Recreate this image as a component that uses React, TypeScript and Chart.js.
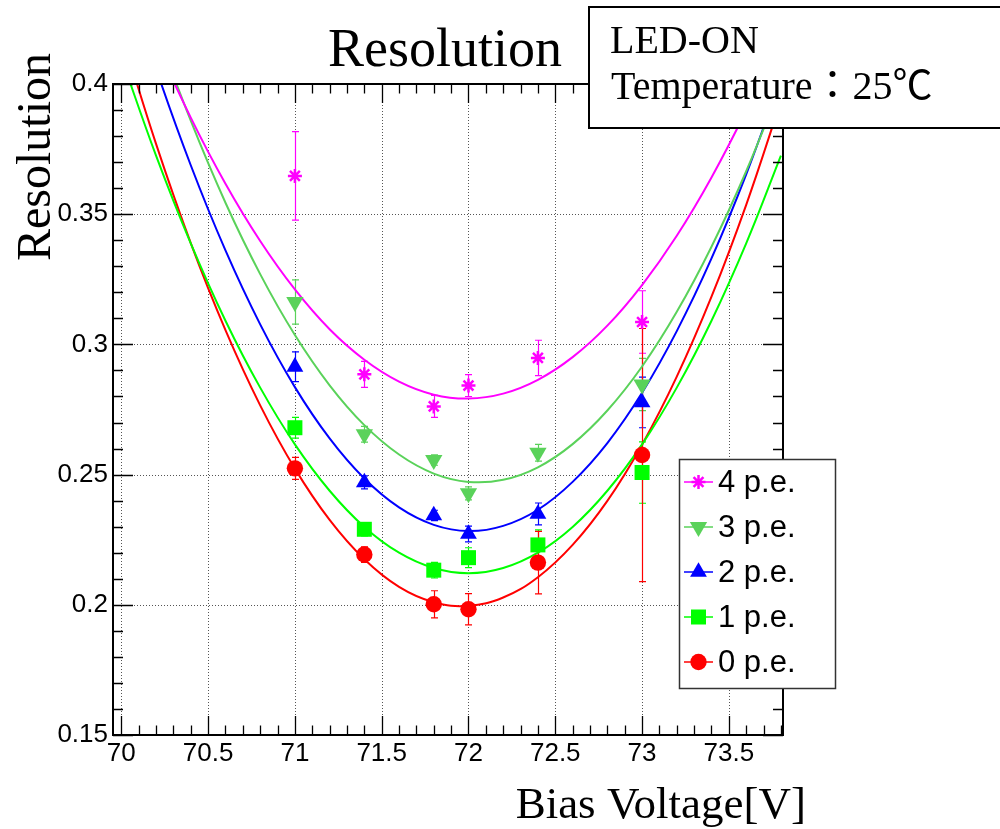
import React, { useEffect, useRef } from "react";
import { Chart, registerables } from "chart.js";

Chart.register(...registerables);

// ---------------- data ----------------
const biasVoltage = [71.0, 71.4, 71.8, 72.0, 72.4, 73.0];

const res4pe = [0.3647, 0.2885, 0.2762, 0.2842, 0.2948, 0.3086];
const err4pe = [0.017, 0.005, 0.0042, 0.0042, 0.0068, 0.012];

const res3pe = [0.3163, 0.2655, 0.2556, 0.2428, 0.2584, 0.2846];
const err3pe = [0.0085, 0.003, 0.002, 0.0025, 0.0032, 0.01];

const res2pe = [0.2914, 0.247, 0.2343, 0.2272, 0.2349, 0.2777];
const err2pe = [0.0057, 0.0025, 0.002, 0.003, 0.0042, 0.0097];

const res1pe = [0.268, 0.229, 0.2133, 0.2181, 0.223, 0.2508];
const err1pe = [0.004, 0.0025, 0.003, 0.0038, 0.0058, 0.0118];

const res0pe = [0.2524, 0.2193, 0.2002, 0.1983, 0.2162, 0.2575];
const err0pe = [0.0042, 0.003, 0.0052, 0.006, 0.012, 0.0486];

// fitted curves
const fitVoltage = [70.0, 70.2, 70.4, 70.6, 70.8, 71.0, 71.2, 71.4, 71.6, 71.8, 72.0, 72.2, 72.4, 72.6, 72.8, 73.0, 73.2, 73.4, 73.6, 73.8];
const fit4pe = [0.4483, 0.416, 0.3871, 0.3617, 0.3397, 0.3211, 0.3058, 0.2941, 0.2857, 0.2807, 0.2792, 0.2811, 0.2864, 0.2951, 0.3072, 0.3228, 0.3417, 0.3641, 0.3899, 0.4191];
const fit3pe = [0.4609, 0.4214, 0.3859, 0.3544, 0.327, 0.3036, 0.2843, 0.269, 0.2577, 0.2504, 0.2472, 0.248, 0.2528, 0.2617, 0.2746, 0.2915, 0.3125, 0.3375, 0.3665, 0.3996];
const fit2pe = [0.4473, 0.4059, 0.3688, 0.3361, 0.3077, 0.2836, 0.2639, 0.2485, 0.2374, 0.2307, 0.2283, 0.2303, 0.2365, 0.2472, 0.2621, 0.2814, 0.3051, 0.333, 0.3653, 0.402];
const fit1pe = [0.4101, 0.3725, 0.3388, 0.3091, 0.2834, 0.2616, 0.2438, 0.2299, 0.22, 0.2141, 0.2121, 0.2141, 0.22, 0.2299, 0.2438, 0.2616, 0.2834, 0.3091, 0.3388, 0.3725];
const fit0pe = [0.4196, 0.377, 0.3389, 0.3055, 0.2766, 0.2523, 0.2326, 0.2175, 0.2069, 0.201, 0.1996, 0.2028, 0.2106, 0.223, 0.2399, 0.2615, 0.2876, 0.3183, 0.3536, 0.3935];

const xTickValues = [70, 70.5, 71, 71.5, 72, 72.5, 73, 73.5];
const xTickLabels = ["70", "70.5", "71", "71.5", "72", "72.5", "73", "73.5"];
const yTickValues = [0.15, 0.2, 0.25, 0.3, 0.35, 0.4];
const yTickLabels = ["0.15", "0.2", "0.25", "0.3", "0.35", "0.4"];

const legendLabels = ["4 p.e.", "3 p.e.", "2 p.e.", "1 p.e.", "0 p.e."];
const chartTitle = "Resolution";
const xTitle = "Bias Voltage[V]";
const yTitle = "Resolution";
const infoLines = ["LED-ON", "Temperature\uFF1A25\u2103"];

const X_MIN = 69.952;
const X_MAX = 73.812;
const Y_MIN = 0.15;
const Y_MAX = 0.4;

// ---------------- styles ----------------
const SANS = '"Liberation Sans", Arial, Helvetica, sans-serif';
const SERIF = '"Liberation Serif", "Times New Roman", "Noto Sans CJK JP", serif';

type Marker = "star" | "triDown" | "triUp" | "square" | "circle";
const series = [
  { label: legendLabels[0], values: res4pe, errors: err4pe, fit: fit4pe, color: "#ff00ff", marker: "star" as Marker },
  { label: legendLabels[1], values: res3pe, errors: err3pe, fit: fit3pe, color: "#5ad25a", marker: "triDown" as Marker },
  { label: legendLabels[2], values: res2pe, errors: err2pe, fit: fit2pe, color: "#0000ff", marker: "triUp" as Marker },
  { label: legendLabels[3], values: res1pe, errors: err1pe, fit: fit1pe, color: "#00ff00", marker: "square" as Marker },
  { label: legendLabels[4], values: res0pe, errors: err0pe, fit: fit0pe, color: "#ff0000", marker: "circle" as Marker },
];

function markerDataset(s: (typeof series)[number]) {
  const base: any = {
    type: "scatter",
    label: s.label,
    data: biasVoltage.map((x, i) => ({ x, y: s.values[i] })),
    backgroundColor: s.color,
    borderColor: s.color,
    showLine: false,
    order: 0,
  };
  if (s.marker === "star") Object.assign(base, { pointStyle: "star", pointRadius: 7, borderWidth: 2.5 });
  if (s.marker === "triDown") Object.assign(base, { pointStyle: "triangle", rotation: 180, pointRadius: 10, borderWidth: 0 });
  if (s.marker === "triUp") Object.assign(base, { pointStyle: "triangle", pointRadius: 9.7, borderWidth: 0 });
  if (s.marker === "square") Object.assign(base, { pointStyle: "rect", pointRadius: 10.6, borderWidth: 0 });
  if (s.marker === "circle") Object.assign(base, { pointStyle: "circle", pointRadius: 8.2, borderWidth: 0 });
  return base;
}

function fitDataset(s: (typeof series)[number]) {
  return {
    type: "scatter",
    label: s.label + " fit",
    data: fitVoltage.map((x, i) => ({ x, y: s.fit[i] })),
    borderColor: s.color,
    backgroundColor: s.color,
    showLine: true,
    pointRadius: 0,
    borderWidth: 2,
    tension: 0.4,
    order: 1,
  } as any;
}

function drawMarker(ctx: CanvasRenderingContext2D, m: Marker, x: number, y: number, color: string) {
  ctx.save();
  ctx.fillStyle = color;
  ctx.strokeStyle = color;
  ctx.beginPath();
  if (m === "circle") {
    ctx.arc(x, y, 8.2, 0, Math.PI * 2);
    ctx.fill();
  } else if (m === "square") {
    ctx.fillRect(x - 7.5, y - 7.5, 15, 15);
  } else if (m === "triUp" || m === "triDown") {
    const r = m === "triUp" ? 9.7 : 10;
    const sgn = m === "triUp" ? 1 : -1;
    for (let k = 0; k < 3; k++) {
      const a = (k * 2 * Math.PI) / 3;
      const px = x + Math.sin(a) * r;
      const py = y - sgn * Math.cos(a) * r;
      if (k === 0) ctx.moveTo(px, py);
      else ctx.lineTo(px, py);
    }
    ctx.closePath();
    ctx.fill();
  } else {
    ctx.lineWidth = 2.5;
    const r = 7;
    for (let k = 0; k < 4; k++) {
      const a = (k * Math.PI) / 4;
      ctx.moveTo(x - Math.cos(a) * r, y - Math.sin(a) * r);
      ctx.lineTo(x + Math.cos(a) * r, y + Math.sin(a) * r);
    }
    ctx.stroke();
  }
  ctx.restore();
}

const rootPlugin = {
  id: "rootStyle",
  beforeDatasetsDraw(chart: any) {
    const { ctx, chartArea: ca } = chart;
    const xs = chart.scales.x;
    const ys = chart.scales.y;
    ctx.save();
    // dotted grid
    ctx.strokeStyle = "#555";
    ctx.lineWidth = 1;
    ctx.setLineDash([1, 2]);
    ctx.beginPath();
    for (const v of xTickValues) {
      const px = Math.round(xs.getPixelForValue(v)) + 0.5;
      if (px <= ca.left + 2 || px >= ca.right - 2) continue;
      ctx.moveTo(px, ca.top);
      ctx.lineTo(px, ca.bottom);
    }
    for (const v of yTickValues) {
      const py = Math.round(ys.getPixelForValue(v)) + 0.5;
      if (py <= ca.top + 2 || py >= ca.bottom - 2) continue;
      ctx.moveTo(ca.left, py);
      ctx.lineTo(ca.right, py);
    }
    ctx.stroke();
    ctx.setLineDash([]);
    // error bars
    ctx.beginPath();
    ctx.rect(ca.left, ca.top, ca.right - ca.left, ca.bottom - ca.top);
    ctx.clip();
    for (const s of series) {
      ctx.strokeStyle = s.color;
      ctx.lineWidth = 1.2;
      ctx.beginPath();
      s.values.forEach((v, i) => {
        const px = Math.round(xs.getPixelForValue(biasVoltage[i])) + 0.5;
        const top = ys.getPixelForValue(v + s.errors[i]);
        const bot = ys.getPixelForValue(v - s.errors[i]);
        ctx.moveTo(px, top);
        ctx.lineTo(px, bot);
        ctx.moveTo(px - 3.5, top);
        ctx.lineTo(px + 3.5, top);
        ctx.moveTo(px - 3.5, bot);
        ctx.lineTo(px + 3.5, bot);
      });
      ctx.stroke();
    }
    ctx.restore();
  },
  afterDatasetsDraw(chart: any) {
    const { ctx, chartArea: ca } = chart;
    const xs = chart.scales.x;
    const ys = chart.scales.y;
    ctx.save();
    ctx.strokeStyle = "#000";
    ctx.lineWidth = 1.3;
    ctx.beginPath();
    // x ticks (major + minor), bottom and top
    for (let k = Math.ceil(X_MIN * 10 - 1e-6); k <= Math.floor(X_MAX * 10 + 1e-6); k++) {
      const v = k / 10;
      const major = k % 5 === 0;
      const len = major ? 19 : 9.5;
      const px = Math.round(xs.getPixelForValue(v)) + 0.5;
      ctx.moveTo(px, ca.bottom);
      ctx.lineTo(px, ca.bottom - len);
      ctx.moveTo(px, ca.top);
      ctx.lineTo(px, ca.top + len);
    }
    // y ticks, left and right
    for (let k = Math.round(Y_MIN * 100); k <= Math.round(Y_MAX * 100); k++) {
      const v = k / 100;
      const major = k % 5 === 0;
      const len = major ? 20 : 10;
      const py = Math.round(ys.getPixelForValue(v)) + 0.5;
      ctx.moveTo(ca.left, py);
      ctx.lineTo(ca.left + len, py);
      ctx.moveTo(ca.right, py);
      ctx.lineTo(ca.right - len, py);
    }
    ctx.stroke();
    // frame
    ctx.lineWidth = 2;
    ctx.strokeRect(ca.left, ca.top, ca.right - ca.left, ca.bottom - ca.top);
    ctx.restore();
  },
  afterDraw(chart: any) {
    const { ctx } = chart;
    ctx.save();
    ctx.fillStyle = "#000";
    // title
    ctx.font = `54px ${SERIF}`;
    ctx.textAlign = "center";
    ctx.textBaseline = "alphabetic";
    ctx.fillText(chartTitle, 445, 66);
    // x title
    ctx.font = `45px ${SERIF}`;
    ctx.textAlign = "right";
    ctx.fillText(xTitle, 806, 818);
    // y title
    ctx.save();
    ctx.translate(50, 53);
    ctx.rotate(-Math.PI / 2);
    ctx.font = `48px ${SERIF}`;
    ctx.textAlign = "right";
    ctx.fillText(yTitle, 0, 0);
    ctx.restore();

    // legend
    const lx = 679.5, ly = 459.5, lw = 156, lh = 229;
    ctx.fillStyle = "#fff";
    ctx.fillRect(lx, ly, lw, lh);
    ctx.strokeStyle = "#333";
    ctx.lineWidth = 1.5;
    ctx.strokeRect(lx, ly, lw, lh);
    series.forEach((s, i) => {
      const cy = 482 + i * 45;
      ctx.strokeStyle = s.color;
      ctx.lineWidth = 1.5;
      ctx.beginPath();
      ctx.moveTo(684, cy);
      ctx.lineTo(713, cy);
      ctx.stroke();
      drawMarker(ctx, s.marker, 698.5, cy, s.color);
      ctx.fillStyle = "#000";
      ctx.font = `31px ${SANS}`;
      ctx.textAlign = "left";
      ctx.textBaseline = "middle";
      ctx.fillText(s.label, 718, cy + 1);
    });

    // info box
    ctx.fillStyle = "#fff";
    ctx.fillRect(589, 7, 430, 121);
    ctx.strokeStyle = "#000";
    ctx.lineWidth = 2;
    ctx.strokeRect(589, 7, 430, 121);
    ctx.fillStyle = "#000";
    ctx.font = `40px ${SERIF}`;
    ctx.textAlign = "left";
    ctx.textBaseline = "alphabetic";
    ctx.fillText(infoLines[0], 610, 53);
    ctx.fillText(infoLines[1], 611, 99);
    ctx.restore();
  },
};

export default function App() {
  const ref = useRef<HTMLCanvasElement | null>(null);
  useEffect(() => {
    if (!ref.current) return;
    const datasets: any[] = [];
    series.forEach((s) => datasets.push(markerDataset(s)));
    series.forEach((s) => datasets.push(fitDataset(s)));
    const chart = new Chart(ref.current, {
      type: "scatter",
      data: { datasets },
      options: {
        animation: false,
        responsive: false,
        devicePixelRatio: 1,
        layout: { padding: { left: 0, top: 84, right: 217, bottom: 0 } },
        elements: { line: { capBezierPoints: false } as any },
        plugins: { legend: { display: false }, tooltip: { enabled: false }, title: { display: false } },
        scales: {
          x: {
            type: "linear",
            min: X_MIN,
            max: X_MAX,
            afterFit: (s: any) => {
              s.height = 94;
            },
            afterBuildTicks: (s: any) => {
              s.ticks = xTickValues.map((v) => ({ value: v }));
            },
            grid: { display: false, drawTicks: false },
            border: { display: false },
            ticks: {
              autoSkip: false,
              maxRotation: 0,
              padding: 3,
              color: "#000",
              font: { family: SANS, size: 26 },
              callback: (_v: any, i: number) => xTickLabels[i],
            },
          },
          y: {
            type: "linear",
            min: Y_MIN,
            max: Y_MAX,
            afterFit: (s: any) => {
              s.width = 113;
            },
            afterBuildTicks: (s: any) => {
              s.ticks = yTickValues.map((v) => ({ value: v }));
            },
            grid: { display: false, drawTicks: false },
            border: { display: false },
            ticks: {
              autoSkip: false,
              padding: 5,
              color: "#000",
              font: { family: SANS, size: 26 },
              callback: (_v: any, i: number) => yTickLabels[i],
            },
          },
        },
      },
      plugins: [rootPlugin],
    } as any);
    return () => chart.destroy();
  }, []);
  return (
    <div style={{ position: "fixed", left: 0, top: 0, width: 1000, height: 829, background: "#fff" }}>
      <canvas ref={ref} width={1000} height={829} style={{ display: "block", width: 1000, height: 829 }} />
    </div>
  );
}
